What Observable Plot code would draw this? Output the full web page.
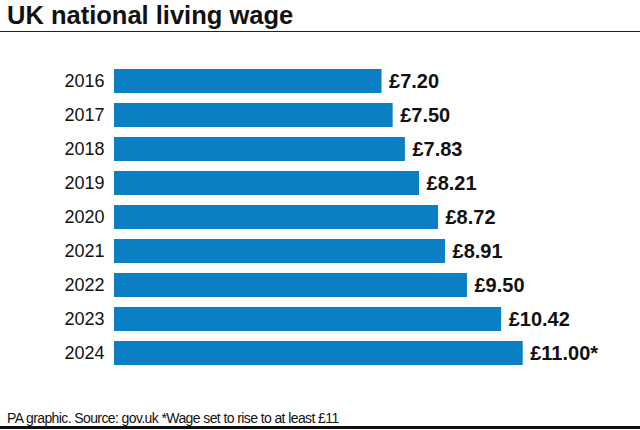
<!DOCTYPE html>
<html>
<head>
<meta charset="utf-8">
<script src="https://cdn.jsdelivr.net/npm/d3@7"></script>
<script src="https://cdn.jsdelivr.net/npm/@observablehq/plot@0.6"></script>
<style>
  html, body { margin: 0; padding: 0; background: #fff; }
  #wrap { width: 640px; height: 430px; overflow: hidden; font-family: "Liberation Sans", Arial, Helvetica, sans-serif; color: #111; }
  #title { height: 31px; line-height: 31px; font-size: 25.5px; font-weight: bold; padding-left: 7px; border-bottom: 1.5px solid #222; letter-spacing: 0px; box-sizing: content-box; }
  #chart svg { display: block; }
  #footer { height: 16px; padding-top: 16px; line-height: 16px; font-size: 14px; padding-left: 7px; border-bottom: 3px solid #111; letter-spacing: -0.6px; }
</style>
</head>
<body>
<div id="wrap">
  <div id="title">UK national living wage</div>
  <div id="chart"></div>
  <div id="footer">PA graphic. Source: gov.uk *Wage set to rise to at least £11</div>
</div>
<script>
const years = ["2016", "2017", "2018", "2019", "2020", "2021", "2022", "2023", "2024"];
const wages = [7.20, 7.50, 7.83, 8.21, 8.72, 8.91, 9.50, 10.42, 11.00];
const notes = ["", "", "", "", "", "", "", "", "*"];

const data = years.map((year, i) => ({year, wage: wages[i], note: notes[i]}));

const chart = Plot.plot({
  width: 640,
  height: 362,
  marginLeft: 114,
  marginRight: 43,
  marginTop: 24,
  marginBottom: 16.2,
  style: { fontFamily: "'Liberation Sans', Arial, Helvetica, sans-serif", color: "#111", background: "#fff" },
  x: { domain: [0, 13], axis: null },
  y: { domain: years, padding: 0.3, label: null },
  marks: [
    Plot.barX(data, { x: "wage", y: "year", fill: "#0a7fc4" }),
    Plot.text(data, {
      x: "wage", y: "year",
      text: d => "£" + d.wage.toFixed(2) + d.note,
      textAnchor: "start", dx: 7, fontSize: 20, fontWeight: "bold", fill: "#111"
    }),
    Plot.axisY({ tickSize: 0, tickPadding: 10, fontSize: 18, label: null, fill: "#111" })
  ]
});
document.getElementById("chart").appendChild(chart);
</script>
</body>
</html>
